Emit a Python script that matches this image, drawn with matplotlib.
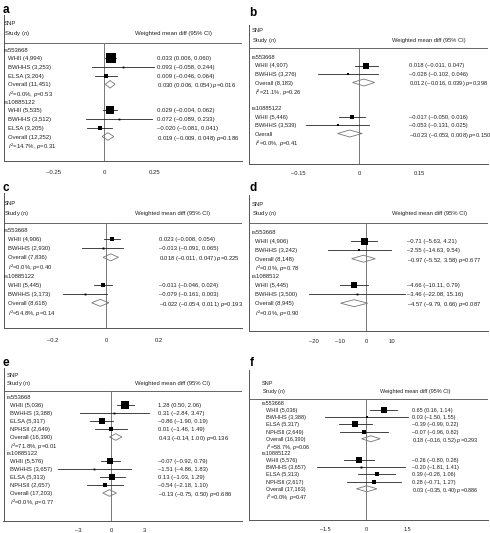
import matplotlib
matplotlib.use('Agg')
import matplotlib.pyplot as plt
from matplotlib.patches import Polygon

plt.rcParams['font.family'] = ['Liberation Sans', 'DejaVu Sans']
plt.rcParams['mathtext.fontset'] = 'custom'
plt.rcParams['mathtext.rm'] = 'Liberation Sans'
plt.rcParams['mathtext.it'] = 'Liberation Sans:italic'
plt.rcParams['mathtext.bf'] = 'Liberation Sans:bold'

# ---- values (last entry of each group = pooled estimate) ----
# panel a
a_snps = ['rs553668', 'rs10885122']
a_labels = [['WHII (4,994)', 'BWHHS (3,253)', 'ELSA (3,204)', 'Overall (11,451)'],
            ['WHII (5,535)', 'BWHHS (3,512)', 'ELSA (3,205)', 'Overall (12,252)']]
a_est = [[0.033, 0.093, 0.009, 0.030], [0.029, 0.072, -0.020, 0.019]]
a_lo = [[0.006, -0.058, -0.046, 0.006], [-0.004, -0.089, -0.081, -0.009]]
a_hi = [[0.060, 0.244, 0.064, 0.054], [0.062, 0.233, 0.041, 0.048]]
a_p = ['0.016', '0.186']
a_i2 = ['0.0', '14.7']
a_phet = ['0.53', '0.31']
a_ticks = [-0.25, 0, 0.25]
a_ticklabels = ['–0.25', '0', '0.25']

# panel b
b_snps = ['rs553668', 'rs10885122']
b_labels = [['WHII (4,907)', 'BWHHS (3,276)', 'Overall (8,183)'],
            ['WHII (5,446)', 'BWHHS (3,539)', 'Overall']]
b_est = [[0.018, -0.028, 0.012], [-0.017, -0.053, -0.023]]
b_lo = [[-0.011, -0.102, -0.016], [-0.050, -0.131, -0.053]]
b_hi = [[0.047, 0.046, 0.039], [0.016, 0.025, 0.008]]
b_p = ['0.398', '0.150']
b_i2 = ['21.1', '0.0']
b_phet = ['0.26', '0.41']
b_ticks = [-0.15, 0, 0.15]
b_ticklabels = ['–0.15', '0', '0.15']

# panel c
c_snps = ['rs553668', 'rs10885122']
c_labels = [['WHII (4,906)', 'BWHHS (2,930)', 'Overall (7,836)'],
            ['WHII (5,445)', 'BWHHS (3,173)', 'Overall (8,618)']]
c_est = [[0.023, -0.013, 0.018], [-0.011, -0.079, -0.022]]
c_lo = [[-0.008, -0.091, -0.011], [-0.046, -0.161, -0.054]]
c_hi = [[0.054, 0.065, 0.047], [0.024, 0.003, 0.011]]
c_p = ['0.225', '0.193']
c_i2 = ['0.0', '54.8']
c_phet = ['0.40', '0.14']
c_ticks = [-0.2, 0, 0.2]
c_ticklabels = ['–0.2', '0', '0.2']

# panel d
d_snps = ['rs553668', 'rs1088512']
d_labels = [['WHII (4,906)', 'BWHHS (3,242)', 'Overall (8,148)'],
            ['WHII (5,445)', 'BWHHS (3,500)', 'Overall (8,945)']]
d_est = [[-0.71, -2.55, -0.97], [-4.66, -3.46, -4.57]]
d_lo = [[-5.63, -14.63, -5.52], [-10.11, -22.08, -9.79]]
d_hi = [[4.21, 9.54, 3.58], [0.79, 15.16, 0.66]]
d_p = ['0.677', '0.087']
d_i2 = ['0.0', '0.0']
d_phet = ['0.78', '0.90']
d_ticks = [-20, -10, 0, 10]
d_ticklabels = ['–20', '–10', '0', '10']

# panel e
e_snps = ['rs553668', 'rs10885122']
e_labels = [['WHII (5,036)', 'BWHHS (3,388)', 'ELSA (5,317)', 'NPHSII (2,649)', 'Overall (16,390)'],
            ['WHII (5,576)', 'BWHHS (3,657)', 'ELSA (5,313)', 'NPHSII (2,657)', 'Overall (17,203)']]
e_est = [[1.28, 0.31, -0.86, 0.01, 0.43], [-0.07, -1.51, 0.13, -0.54, -0.13]]
e_lo = [[0.50, -2.84, -1.90, -1.46, -0.14], [-0.92, -4.86, -1.03, -2.18, -0.75]]
e_hi = [[2.06, 3.47, 0.19, 1.49, 1.00], [0.79, 1.83, 1.29, 1.10, 0.50]]
e_p = ['0.136', '0.686']
e_i2 = ['71.8', '0.0']
e_phet = ['0.01', '0.77']
e_ticks = [-3, 0, 3]
e_ticklabels = ['–3', '0', '3']

# panel f
f_snps = ['rs553668', 'rs10885122']
f_labels = [['WHII (5,036)', 'BWHHS (3,388)', 'ELSA (5,317)', 'NPHSII (2,649)', 'Overall (16,390)'],
            ['WHII (5,576)', 'BWHHS (3,657)', 'ELSA (5,313)', 'NPHSII (2,617)', 'Overall (17,163)']]
f_est = [[0.65, 0.03, -0.39, -0.07, 0.18], [-0.26, -0.20, 0.39, 0.28, 0.03]]
f_lo = [[0.16, -1.50, -0.99, -0.96, -0.16], [-0.80, -1.81, -0.28, -0.71, -0.35]]
f_hi = [[1.14, 1.55, 0.22, 0.82, 0.52], [0.28, 1.41, 1.06, 1.27, 0.40]]
f_p = ['0.293', '0.886']
f_i2 = ['58.7', '0.0']
f_phet = ['0.06', '0.47']
f_ticks = [-1.5, 0, 1.5]
f_ticklabels = ['–1.5', '0', '1.5']

W, H = 490, 533
fig = plt.figure(figsize=(W / 100, H / 100), dpi=100)


def fmt(v, dec):
    return f'{v:.{dec}f}'.replace('-', '–')


#  one forest plot; lay holds pixel positions of the panel pieces
def forest(letter, lay, snps, labels, est, lo, hi, p_all, i2, p_het, ticks, ticklabels, dec):
    L, R, T, B = lay['box']
    z, ppu = lay['zero'], lay['ppu']
    ax = fig.add_axes([L / W, 1 - B / H, (R - L) / W, (B - T) / H])
    ax.set_xlim((L - z) / ppu, (R - z) / ppu)
    ax.set_ylim(B, T)
    for s in ['top', 'right']:
        ax.spines[s].set_visible(False)
    for s in ['left', 'bottom']:
        ax.spines[s].set_color('#555555')
        ax.spines[s].set_linewidth(0.7)
    ax.set_xticks([])
    ax.set_yticks([])
    px = lambda x: (x - z) / ppu
    fs = lay['fs']
    kw = dict(fontsize=fs, color='#222222', va='center_baseline')

    ax.text(px(lay['label'][0]), lay['label'][1], letter, fontsize=8.5,
            fontweight='bold', va='baseline', color='black')
    ax.text(px(lay['tx']), lay['snp_y'], 'SNP', **kw)
    ax.text(px(lay['tx']), lay['study_y'], 'Study ($n$)', **kw)
    ax.text(px(lay['wx']), lay['study_y'] + 1, 'Weighted mean diff (95% CI)', **kw)
    ax.plot([px(L), px(R)], [lay['hdr'], lay['hdr']], color='#666666', lw=0.7)
    ax.plot([0, 0], [lay['hdr'], B], color='#777777', lw=0.7)

    for t, tl in zip(ticks, ticklabels):
        ax.text(t, lay['ticky'], tl, ha='center', **kw)

    # box side scales with 1/CI width, biggest box given per panel
    widths = [h - l for g in range(len(snps)) for l, h in zip(lo[g][:-1], hi[g][:-1])]
    wmin = min(widths)

    y = lay['y0']
    dy = lay['dy']
    for g in range(len(snps)):
        ax.text(px(lay['tx']), y, snps[g], **kw)
        y += dy
        n = len(labels[g])
        for k in range(n):
            e, l, h = est[g][k], lo[g][k], hi[g][k]
            ax.text(px(lay['ix']), y, labels[g][k], **kw)
            ci = f'{fmt(e, dec)} ({fmt(l, dec)}, {fmt(h, dec)})'
            if k == n - 1:
                dh = lay['dh']
                ax.add_patch(Polygon([(l, y), (e, y - dh), (h, y), (e, y + dh)],
                                     closed=True, fc='none', ec='#777777', lw=0.6))
                ci += f' $p$={p_all[g]}'
            else:
                side = max(lay['side'] * wmin / (h - l), 1.8)
                ax.plot([l, h], [y, y], color='#222222', lw=0.6)
                ax.plot(e, y, marker='s', ms=side * 0.72, color='black', mew=0)
            ax.text(px(lay['cx']), y, ci, **kw)
            y += dy
        ax.text(px(lay['ix']), y, f'$I^2$={i2[g]}%, $p$={p_het[g]}', **kw)
        y += dy * (1 + lay['gap'])


lay_a = dict(box=(3.5, 242, 15, 161), zero=104, ppu=204, tx=4, ix=7.5, wx=135, cx=157,
             snp_y=23, study_y=32, hdr=43, y0=49.5, dy=8.7, gap=0, side=10, dh=3.8,
             ticky=172, label=(2.5, 13), fs=4.3)
lay_b = dict(box=(249, 488, 25, 164), zero=359, ppu=403.3, tx=252, ix=255, wx=392, cx=409,
             snp_y=30, study_y=39, hdr=48, y0=57, dy=8.5, gap=1, side=5.5, dh=3.5,
             ticky=173, label=(249.5, 16), fs=4.15)
lay_c = dict(box=(3.5, 242, 193, 328), zero=106, ppu=265, tx=4, ix=7.5, wx=135, cx=159,
             snp_y=203, study_y=212, hdr=223, y0=230, dy=9.1, gap=0, side=5, dh=3.5,
             ticky=340, label=(2.5, 191), fs=4.25)
lay_d = dict(box=(249, 488, 195, 331), zero=366, ppu=2.6, tx=252, ix=255, wx=392, cx=407,
             snp_y=204, study_y=212, hdr=223, y0=232, dy=8.9, gap=0, side=7, dh=3.5,
             ticky=341, label=(249.5, 191), fs=4.25)
lay_e = dict(box=(3.5, 242, 368, 521), zero=111, ppu=11, tx=6.5, ix=10, wx=135, cx=158,
             snp_y=375, study_y=382, hdr=391, y0=397, dy=8.0, gap=0, side=7.5, dh=3.3,
             ticky=530, label=(2.5, 366), fs=4.2)
lay_f = dict(box=(249, 488, 370, 520), zero=366, ppu=27.33, tx=262, ix=266, wx=380, cx=412,
             snp_y=383, study_y=389.5, hdr=399, y0=403, dy=7.15, gap=0, side=6.5, dh=3.0,
             ticky=529, label=(249.5, 366), fs=4.0)

forest('a', lay_a, a_snps, a_labels, a_est, a_lo, a_hi, a_p, a_i2, a_phet, a_ticks, a_ticklabels, 3)
forest('b', lay_b, b_snps, b_labels, b_est, b_lo, b_hi, b_p, b_i2, b_phet, b_ticks, b_ticklabels, 3)
forest('c', lay_c, c_snps, c_labels, c_est, c_lo, c_hi, c_p, c_i2, c_phet, c_ticks, c_ticklabels, 3)
forest('d', lay_d, d_snps, d_labels, d_est, d_lo, d_hi, d_p, d_i2, d_phet, d_ticks, d_ticklabels, 2)
forest('e', lay_e, e_snps, e_labels, e_est, e_lo, e_hi, e_p, e_i2, e_phet, e_ticks, e_ticklabels, 2)
forest('f', lay_f, f_snps, f_labels, f_est, f_lo, f_hi, f_p, f_i2, f_phet, f_ticks, f_ticklabels, 2)

fig.savefig('out.png', dpi=100)
